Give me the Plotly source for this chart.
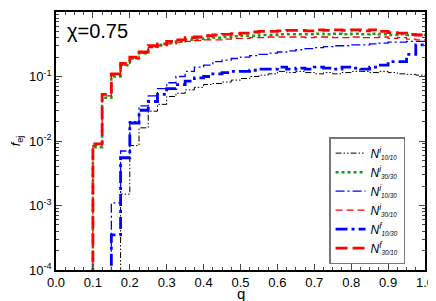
import plotly.graph_objects as go

# bin left edges (width 0.025), q from 0 to 1
bin_width = 0.025
n_bins = 40
q_edges = [round(i * bin_width, 3) for i in range(n_bins + 1)]

# zeros = empty bins
N_i_10_10 = [0, 0, 0, 0, 0, 0, 0, 0.0015, 0.0085, 0.016, 0.029, 0.037, 0.049, 0.055, 0.062, 0.068,
             0.075, 0.078, 0.082, 0.088, 0.093, 0.10, 0.105, 0.11, 0.12, 0.115, 0.12, 0.115, 0.11, 0.115,
             0.11, 0.115, 0.12, 0.12, 0.115, 0.12, 0.115, 0.11, 0.108, 0.105]
N_i_30_30 = [0, 0, 0, 0, 0.008, 0.047, 0.10, 0.15, 0.19, 0.23, 0.29, 0.31, 0.33, 0.35, 0.37, 0.38,
             0.39, 0.40, 0.41, 0.42, 0.43, 0.43, 0.44, 0.44, 0.45, 0.45, 0.45, 0.45, 0.46, 0.45,
             0.46, 0.45, 0.46, 0.45, 0.46, 0.45, 0.44, 0.45, 0.44, 0.44]
N_i_10_30 = [0, 0, 0, 0, 0, 0, 0.0011, 0.007, 0.02, 0.035, 0.05, 0.065, 0.08, 0.10, 0.12, 0.14,
             0.15, 0.17, 0.18, 0.19, 0.20, 0.21, 0.22, 0.23, 0.24, 0.25, 0.26, 0.27, 0.28, 0.29,
             0.30, 0.30, 0.31, 0.31, 0.32, 0.33, 0.34, 0.34, 0.35, 0.35]
N_i_30_10 = [0, 0, 0, 0, 0.0085, 0.05, 0.105, 0.15, 0.19, 0.23, 0.28, 0.30, 0.32, 0.34, 0.35, 0.36,
             0.37, 0.37, 0.38, 0.39, 0.39, 0.40, 0.40, 0.41, 0.41, 0.41, 0.41, 0.40, 0.41, 0.41,
             0.40, 0.40, 0.41, 0.40, 0.40, 0.41, 0.39, 0.40, 0.38, 0.37]
N_f_10_30 = [0, 0, 0, 0, 0, 0, 0.00035, 0.0055, 0.019, 0.03, 0.041, 0.053, 0.065, 0.075, 0.085, 0.095,
             0.10, 0.11, 0.115, 0.12, 0.12, 0.125, 0.13, 0.13, 0.14, 0.13, 0.135, 0.13, 0.14, 0.135,
             0.13, 0.14, 0.135, 0.13, 0.14, 0.15, 0.17, 0.17, 0.22, 0.31]
N_f_30_10 = [0, 0, 0, 0, 0.009, 0.053, 0.11, 0.16, 0.20, 0.24, 0.30, 0.32, 0.35, 0.37, 0.40, 0.41,
             0.43, 0.44, 0.45, 0.46, 0.47, 0.49, 0.50, 0.50, 0.51, 0.52, 0.52, 0.51, 0.53, 0.52,
             0.53, 0.52, 0.53, 0.51, 0.53, 0.50, 0.48, 0.47, 0.45, 0.44]


def label(state, sub):
    return ("<i>N</i><sup><i>%s</i></sup><span style='font-size:9px'><sub><i>%s</i></sub></span>"
            % (state, sub))


series = [
    (label("i", "10/10"), N_i_10_10, "black", 1, "6px,2px,1.5px,2px,1.5px,2px"),
    (label("i", "30/30"), N_i_30_30, "#1a9a1a", 2.5, "dot"),
    (label("i", "10/30"), N_i_10_30, "blue", 1.3, "9px,3px,2px,3px"),
    (label("i", "30/10"), N_i_30_10, "red", 1.3, "7px,4px"),
    (label("f", "10/30"), N_f_10_30, "blue", 2.8, "12px,4px,3px,4px"),
    (label("f", "30/10"), N_f_30_10, "red", 2.8, "12px,5px"),
]

FLOOR = 1e-7
fig = go.Figure()
for name, vals, color, width, dash in series:
    y = [v if v > 0 else FLOOR for v in vals]
    y = y + [y[-1]]
    fig.add_trace(go.Scatter(x=q_edges, y=y, mode="lines", name=name, line_shape="hv",
                             line=dict(color=color, width=width, dash=dash)))

font = "Liberation Sans, Arial, sans-serif"
# page body has an 8px default margin, so the figure is sized/margined to compensate
fig.update_layout(
    width=428, height=293,
    margin=dict(l=43, r=10, t=2, b=31),
    paper_bgcolor="white", plot_bgcolor="white",
    font=dict(family=font, size=13, color="black"),
    showlegend=True,
    legend=dict(x=0.74, y=0.515, xanchor="left", yanchor="top",
                bordercolor="#777777", borderwidth=1.5, bgcolor="white",
                font=dict(size=12), tracegroupgap=0, itemwidth=30),
    annotations=[
        dict(text="χ=0.75", x=0.025, y=0.975, xref="paper", yref="paper",
             xanchor="left", yanchor="top", showarrow=False,
             font=dict(size=20, family=font)),
        dict(text="q", x=0.5, y=-0.092, xref="paper", yref="paper",
             xanchor="center", yanchor="middle", showarrow=False,
             font=dict(size=15, family=font)),
    ],
)
fig.update_xaxes(range=[0, 1], dtick=0.1, tick0=0, tickformat=".1f",
                 ticks="inside", ticklen=6, tickwidth=1.2,
                 minor=dict(dtick=0.025, ticks="inside", ticklen=3, tickwidth=1),
                 showline=True, linecolor="black", linewidth=1.5, mirror="ticks",
                 showgrid=False, zeroline=False)
tickvals = [1e-4, 1e-3, 1e-2, 1e-1, 1]
ticktext = ["10<sup>-4</sup>", "10<sup>-3</sup>", "10<sup>-2</sup>", "10<sup>-1</sup>", "10<sup>0</sup>"]
fig.update_yaxes(type="log", range=[-4, 0], tickvals=tickvals, ticktext=ticktext,
                 ticks="inside", ticklen=6, tickwidth=1.2,
                 minor=dict(ticks="inside", ticklen=3, tickwidth=1, dtick="D1"),
                 showline=True, linecolor="black", linewidth=1.5, mirror="ticks",
                 showgrid=False, zeroline=False,
                 title=dict(text="<i>f</i><sub>ej</sub>", font=dict(size=13), standoff=10))

fig.write_html("out.html")
